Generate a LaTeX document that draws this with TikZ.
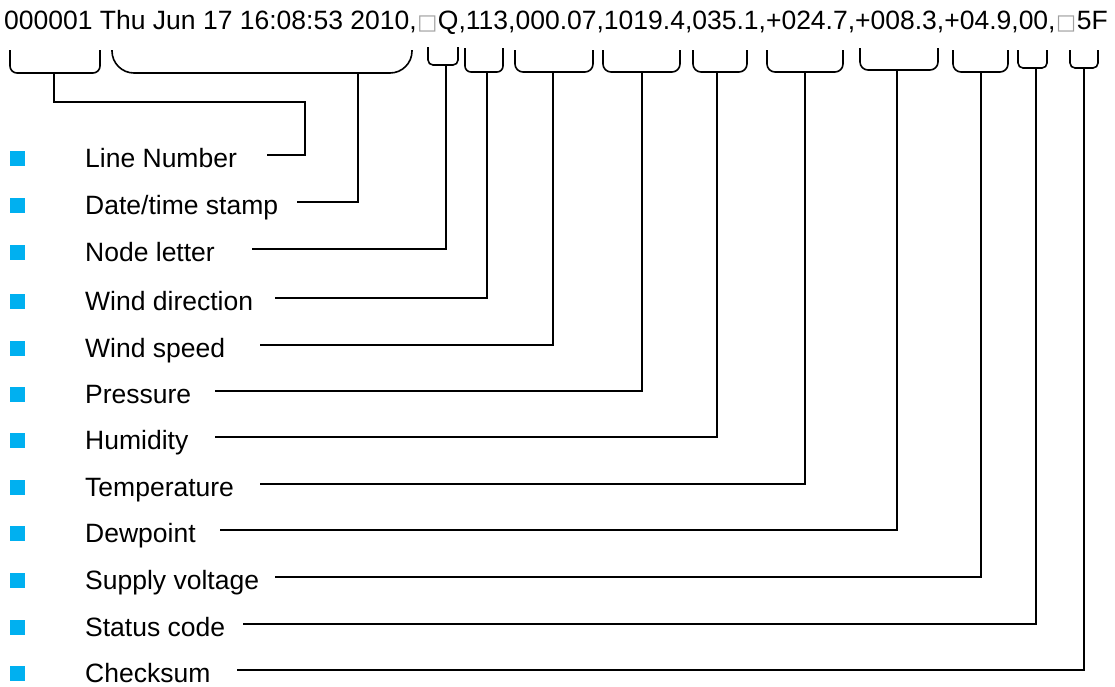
\documentclass[tikz,border=0pt]{standalone}
\usepackage{fontspec}
\setmainfont{Liberation Sans}
\newfontfamily\dejavu{DejaVu Sans}
\usepackage{graphicx}
\definecolor{bulletblue}{HTML}{00B0F0}
\definecolor{boxgray}{HTML}{A0A0A0}
\newcommand\sqg{\makebox[0.8em]{\dejavu\color{boxgray}\scalebox{0.8}{□}}}
\newcommand\brkt[7]{%
  \draw[brk,rounded corners=#6pt] (#2,#4) -- (#2,#5) -- (#3,#5) -- (#3,#4);
  \coordinate (#1) at (#7,#5);}
\begin{document}
\begin{tikzpicture}[x=1pt,y=-1pt,
  txt/.style={anchor=base west, inner sep=0pt, font=\fontsize{26.5}{30}\selectfont},
  bul/.style={fill=bulletblue, minimum size=15pt, inner sep=0pt, draw=none},
  brk/.style={line width=1.6pt, line join=round},
  conn/.style={line width=1.6pt, line join=miter}]
\useasboundingbox (0,0) rectangle (1115,686);
\node[txt] (rec) at (4,29) {000001 Thu Jun 17 16:08:53 2010,\sqg Q,113,000.07,1019.4,035.1,+024.7,+008.3,+04.9,00,\sqg 5F};
% brackets: name, left, right, top, bottom, radius, stem x
\brkt{s0}{10}{100}{50}{73}{7}{54}
\brkt{s1}{112}{412}{50}{73}{22}{358}
\brkt{s2}{428}{458}{47}{65}{5}{446}
\brkt{s3}{465}{503}{48}{72}{6}{487}
\brkt{s4}{515}{593}{50}{72}{8}{553}
\brkt{s5}{603}{680}{50}{72}{8}{642}
\brkt{s6}{693}{747}{50}{72}{8}{717}
\brkt{s7}{767}{843}{50}{72}{8}{805}
\brkt{s8}{860}{938}{48}{70}{8}{897}
\brkt{s9}{953}{1008}{50}{72}{8}{981}
\brkt{s10}{1018}{1047}{50}{68}{5}{1036}
\brkt{s11}{1070}{1098}{50}{68}{5}{1084}
% legend rows
\foreach \i/\y/\t/\xe in {
  0/155/Line Number/267,
  1/202/Date\slash time stamp/297,
  2/249/Node letter/252,
  3/298/Wind direction/275,
  4/345/Wind speed/260,
  5/391/Pressure/215,
  6/437/Humidity/215,
  7/484/Temperature/260,
  8/530/Dewpoint/220,
  9/577/Supply voltage/275,
  10/624/Status code/243,
  11/670/Checksum/237}{
  \node[bul] (b\i) at (17,\y+3) {};
  \node[txt] (l\i) at (85,\y+12) {\t};
  \coordinate (e\i) at (\xe,\y);
}
\coordinate (jog) at (305,102);
\draw[conn] (s0) |- (jog) |- (e0);
\foreach \i in {1,...,11}{
  \draw[conn] (s\i) |- (e\i);
}
\end{tikzpicture}
\end{document}
